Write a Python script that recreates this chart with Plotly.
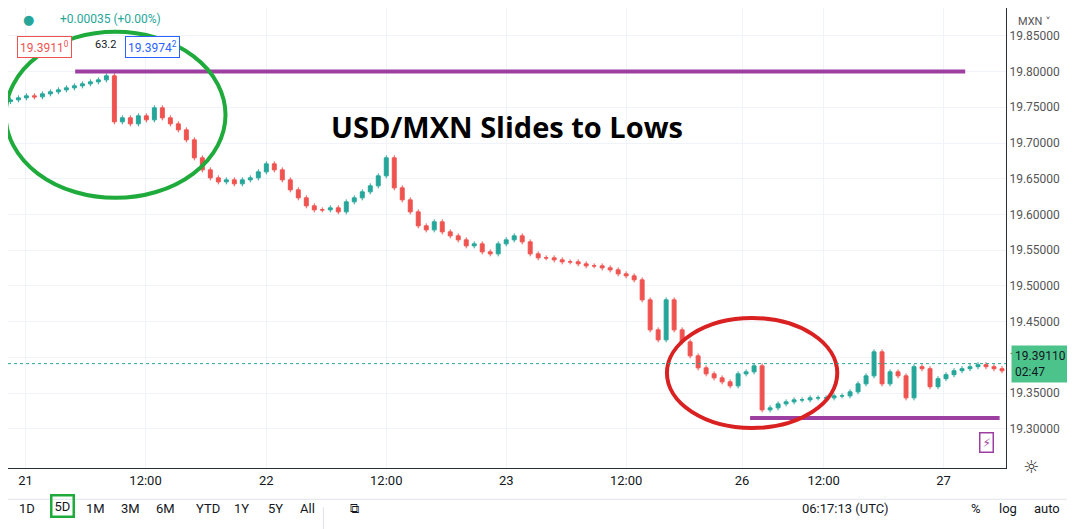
import plotly.graph_objects as go

closes = [19.7604,19.7632,19.7660,19.7646,19.7688,19.7716,19.7744,19.7772,19.7800,19.7828,19.7856,19.7884,19.7940,19.7296,19.7352,19.7268,19.7380,19.7324,19.7492,19.7352,19.7268,19.7184,19.7044,19.6792,19.6624,19.6512,19.6456,19.6484,19.6428,19.6484,19.6512,19.6596,19.6708,19.6624,19.6484,19.6344,19.6232,19.6120,19.6064,19.6064,19.6092,19.6036,19.6176,19.6232,19.6316,19.6400,19.6540,19.6792,19.6372,19.6204,19.6036,19.5840,19.5784,19.5896,19.5756,19.5700,19.5644,19.5560,19.5588,19.5476,19.5448,19.5588,19.5644,19.5700,19.5616,19.5448,19.5392,19.5392,19.5364,19.5336,19.5336,19.5308,19.5280,19.5280,19.5252,19.5224,19.5168,19.5140,19.5084,19.4804,19.4384,19.4244,19.4804,19.4384,19.4216,19.4020,19.3852,19.3768,19.3712,19.3656,19.3600,19.3768,19.3796,19.3880,19.3264,19.3292,19.3348,19.3376,19.3404,19.3404,19.3432,19.3432,19.3432,19.3460,19.3460,19.3516,19.3628,19.3740,19.4076,19.3628,19.3796,19.3740,19.3432,19.3868,19.3840,19.3588,19.3700,19.3756,19.3812,19.3840,19.3868,19.3896,19.3868,19.3840,19.3811]
first_open = 19.7580
wick = 0.0035
tick_pos = [1.9, 16.9, 32, 47, 62, 77, 91.5, 101.7, 116.7]
tick_text = ["21", "12:00", "22", "12:00", "23", "12:00", "26", "12:00", "27"]
price_ticks = [19.30, 19.35, 19.40, 19.45, 19.50, 19.55, 19.60, 19.65, 19.70, 19.75, 19.80, 19.85]
resistance = 19.80
support = 19.315
last_price = 19.3911

x = list(range(len(closes)))
opens = [first_open] + closes[:-1]
highs = [max(o, c) + wick for o, c in zip(opens, closes)]
lows = [min(o, c) - wick for o, c in zip(opens, closes)]

fig = go.Figure(go.Candlestick(
    x=x, open=opens, high=highs, low=lows, close=closes,
    increasing=dict(line=dict(color="#26a69a", width=1), fillcolor="#26a69a"),
    decreasing=dict(line=dict(color="#ef5350", width=1), fillcolor="#ef5350"),
    whiskerwidth=0, showlegend=False, hoverinfo="skip"))

fig.update_layout(
    width=1075, height=529, margin=dict(l=0, r=77, t=0, b=69),
    paper_bgcolor="white", plot_bgcolor="white",
    font=dict(family="Roboto, DejaVu Sans", color="#131722"),
    xaxis=dict(range=[-0.3, 124.5], tickvals=tick_pos, ticktext=tick_text,
               showgrid=True, gridcolor="#f0f3fa", rangeslider=dict(visible=False),
               tickfont=dict(size=13, color="#131722"), ticks="", showline=True,
               linecolor="#2a2e39", zeroline=False),
    yaxis=dict(range=[19.245, 19.889], side="right", tickvals=price_ticks,
               ticktext=[f"{v:.5f}" for v in price_ticks], showgrid=True,
               gridcolor="#f0f3fa", tickfont=dict(size=12, color="#555"),
               showline=True, linecolor="#2a2e39", zeroline=False, ticks=""),
)

shapes = [
    dict(type="line", x0=8.1, x1=119.4, y0=resistance, y1=resistance,
         line=dict(color="#9c3fa0", width=4)),
    dict(type="line", x0=92.5, x1=123.7, y0=support, y1=support,
         line=dict(color="#9c3fa0", width=4)),
    dict(type="circle", x0=-0.6, x1=26.9, y0=19.6232, y1=19.8556,
         line=dict(color="#1faa3c", width=4)),
    dict(type="circle", x0=82.1, x1=103.4, y0=19.301, y1=19.455,
         line=dict(color="#d92121", width=4)),
    dict(type="line", x0=-0.3, x1=124.5, y0=last_price, y1=last_price,
         line=dict(color="#26a69a", width=1, dash="dot")),
    dict(type="line", xref="paper", yref="paper", x0=-0.02, x1=1.077, y0=-0.068, y1=-0.068,
         line=dict(color="#e0e3eb", width=1)),
    dict(type="line", xref="paper", yref="paper", x0=0.316, x1=0.316, y0=-0.085, y1=-0.135,
         line=dict(color="#e0e3eb", width=1)),
]
fig.update_layout(shapes=shapes)

ann = [
    dict(x=0.5, y=0.79, xref="paper", yref="paper", text="<b>USD/MXN Slides to Lows</b>",
         showarrow=False, font=dict(size=29, color="black", family="Open Sans")),
    dict(x=0.05, y=0.996, xref="paper", yref="paper", xanchor="left", showarrow=False,
         text="+0.00035 (+0.00%)", font=dict(size=12, color="#26a69a")),
    dict(x=0.013, y=0.996, xref="paper", yref="paper", showarrow=False,
         text="●", font=dict(size=13, color="#26a69a")),
    dict(x=0.009, y=0.94, xref="paper", yref="paper", xanchor="left", showarrow=False,
         text="19.3911<sup>0</sup>", font=dict(size=12, color="#ef5350"),
         bordercolor="#ef5350", borderwidth=1, borderpad=2, bgcolor="white"),
    dict(x=0.085, y=0.94, xref="paper", yref="paper", xanchor="left", showarrow=False,
         text="63.2", font=dict(size=11, color="#131722")),
    dict(x=0.117, y=0.94, xref="paper", yref="paper", xanchor="left", showarrow=False,
         text="19.3974<sup>2</sup>", font=dict(size=12, color="#2962ff"),
         bordercolor="#2962ff", borderwidth=1, borderpad=2, bgcolor="white"),
    dict(x=1.005, y=last_price, xref="paper", yref="y", xanchor="left", showarrow=False,
         text="19.39110<br>02:47", align="left", font=dict(size=12, color="#131722"),
         bgcolor="#4cc38a", borderpad=3),
    dict(x=1.01, y=0.99, xref="paper", yref="paper", xanchor="left", showarrow=False,
         text="MXN ˅", font=dict(size=11, color="#555")),
    dict(x=1.035, y=-0.025, xref="paper", yref="paper", showarrow=False,
         text="☼", font=dict(size=18, color="#333")),
    dict(x=0.988, y=0.033, xref="x domain", yref="paper", showarrow=False,
         text="⚡", font=dict(size=12, color="#9c3fa0"),
         bordercolor="#9c3fa0", borderwidth=1.5, borderpad=2),
]
tools = [("1D", 27), ("5D", 60), ("1M", 93), ("3M", 127), ("6M", 161), ("YTD", 200),
         ("1Y", 237), ("5Y", 270), ("All", 302), ("⧉", 357), ("06:17:13 (UTC)", 880),
         ("%", 970), ("log", 1005), ("auto", 1047)]
for t, px in tools:
    a = dict(x=(px - 18.7) / 973.5, y=-0.109, xref="paper", yref="paper", showarrow=False,
             text=t, font=dict(size=13, color="#131722"))
    if t == "5D":
        a.update(bordercolor="#1faa3c", borderwidth=2.5, borderpad=2)
    ann.append(a)
fig.update_layout(annotations=ann)
fig.write_html("out.html")
